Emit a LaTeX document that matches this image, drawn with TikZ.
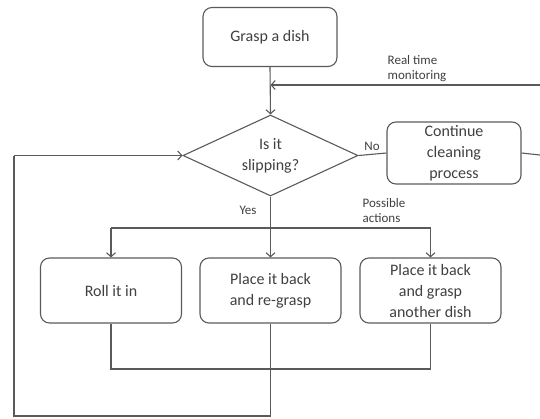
\documentclass[tikz,border=0pt]{standalone}
\usepackage{fontspec}
\setmainfont{Carlito}
\usetikzlibrary{shapes.geometric,arrows.meta}
\definecolor{ln}{RGB}{90,90,90}
\definecolor{tx}{RGB}{64,64,64}
\begin{document}
\begin{tikzpicture}[x=1pt,y=1pt,
  every node/.style={text=tx},
  box/.style={draw=ln,line width=1.1pt,rounded corners=9pt,minimum width=#1,align=center,
    font=\fontsize{16}{21}\selectfont,inner sep=0pt},
  dec/.style={draw=ln,line width=1.1pt,diamond,aspect=2.16,minimum width=175pt,minimum height=81pt,
    inner sep=0pt,align=center,font=\fontsize{16}{21}\selectfont},
  lbl/.style={font=\fontsize{13}{15}\selectfont,align=left,inner sep=0pt},
  conn/.style={draw=ln,line width=1.1pt},
  arr/.style={conn,-{Straight Barb[length=4pt,width=9pt]}}]
\useasboundingbox (0,0) rectangle (540,-418);
\node[box=134pt,minimum height=59pt] (grasp) at (270,-37) {Grasp a dish};
\node[dec] (dia) at (270.5,-155.5) {Is it\\slipping?};
\node[box=134pt,minimum height=62pt] (cont) at (454,-153) {Continue\\cleaning\\process};
\node[box=141pt,minimum height=65pt] (b1) at (111,-290.5) {Roll it in};
\node[box=141pt,minimum height=65pt] (b2) at (270.5,-290.5) {Place it back\\and re-grasp};
\node[box=141pt,minimum height=65pt] (b3) at (430.5,-290.5) {Place it back\\and grasp\\another dish};
\node[lbl] (rtm) at (417,-69) {Real time\\monitoring};
\node[lbl] (no) at (372,-146) {No};
\node[lbl] (yes) at (248,-210) {Yes};
\node[lbl] (pa) at (384,-211) {Possible\\actions};
\coordinate (rt) at (540,-85);
\coordinate (rj) at (270.5,-85);
\coordinate (ce) at (540,-155);
\coordinate (br) at (270.5,-228);
\coordinate (bl) at (111,-228);
\coordinate (brr) at (430.5,-228);
\coordinate (mj) at (270.5,-369);
\coordinate (bot) at (270.5,-416);
\coordinate (lft) at (14,-155.5);
\draw[arr] (grasp.south) -- (dia.north);
\draw[arr] (rt) -- (rj);
\draw[conn] (dia.east) -- (cont.west);
\draw[conn] (cont.east) -- (ce);
\draw[arr] (dia.south) -- (b2.north);
\draw[conn] (bl) -- (brr);
\draw[arr] (bl) -- (b1.north);
\draw[arr] (brr) -- (b3.north);
\draw[conn] (b1.south) |- (mj) -| (b3.south);
\draw[conn] (b2.south) -- (bot) -| (lft);
\draw[arr] (lft) -- (dia.west);
\end{tikzpicture}
\end{document}
